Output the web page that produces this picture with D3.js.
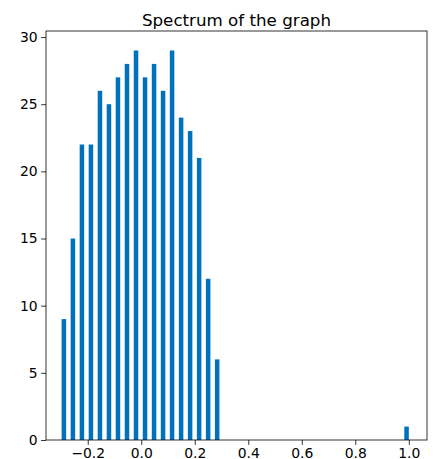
<!DOCTYPE html>
<html>
<head>
<meta charset="utf-8">
<script src="https://cdn.jsdelivr.net/npm/d3@7"></script>
<style>
  html, body { margin: 0; padding: 0; background: #fff; }
  svg { display: block; font-family: "DejaVu Sans", sans-serif; }
</style>
</head>
<body>
<svg id="chart" width="435" height="459"></svg>
<script>
// Histogram bin left edges (eigenvalues) and counts
const binLeft = [-0.2976, -0.2639, -0.2302, -0.1965, -0.1628, -0.1291, -0.0954, -0.0617, -0.0280,
                 0.0057, 0.0394, 0.0731, 0.1068, 0.1405, 0.1742, 0.2079, 0.2416, 0.2753, 0.9832];
const counts  = [9, 15, 22, 22, 26, 25, 27, 28, 29, 27, 28, 26, 29, 24, 23, 21, 12, 6, 1];
const binWidth = 0.01685;
const xTicks = [-0.2, 0.0, 0.2, 0.4, 0.6, 0.8, 1.0];
const yTicks = [0, 5, 10, 15, 20, 25, 30];
const title = "Spectrum of the graph";

(function () {
const svg = d3.select("#chart");
const mL = 46, mR = 427, mT = 31, mB = 440;

const x = d3.scaleLinear().domain([-0.356, 1.068]).range([mL, mR]);
const y = d3.scaleLinear().domain([0, 30.45]).range([mB, mT]);

const bars = binLeft.map((b, i) => ({ x0: b, x1: b + binWidth, c: counts[i] }));

svg.append("g").selectAll("rect").data(bars).join("rect")
  .attr("x", d => x(d.x0))
  .attr("width", d => x(d.x1) - x(d.x0))
  .attr("y", d => y(d.c))
  .attr("height", d => y(0) - y(d.c))
  .attr("fill", "#0072bd");

const fmt = d => d.toFixed(1).replace("-", "\u2212");

const xAxis = svg.append("g")
  .attr("transform", `translate(0,${mB})`)
  .call(d3.axisBottom(x).tickValues(xTicks).tickFormat(fmt).tickSize(4.9).tickPadding(3.5).tickSizeOuter(0));
const yAxis = svg.append("g")
  .attr("transform", `translate(${mL},0)`)
  .call(d3.axisLeft(y).tickValues(yTicks).tickFormat(d3.format("d")).tickSize(4.9).tickPadding(3.5).tickSizeOuter(0));

[xAxis, yAxis].forEach(g => {
  g.select(".domain").remove();
  g.selectAll(".tick line").attr("stroke", "#000").attr("stroke-width", 0.8);
  g.selectAll(".tick text").attr("fill", "#000").style("font-size", "13.9px").style("font-family", "DejaVu Sans, sans-serif");
});

svg.append("rect")
  .attr("x", mL).attr("y", mT)
  .attr("width", mR - mL).attr("height", mB - mT)
  .attr("fill", "none").attr("stroke", "#000").attr("stroke-width", 0.8);

svg.append("text")
  .attr("x", (mL + mR) / 2).attr("y", 25.5)
  .attr("text-anchor", "middle")
  .style("font-size", "16.7px")
  .attr("fill", "#000")
  .text(title);
})();
</script>
</body>
</html>
